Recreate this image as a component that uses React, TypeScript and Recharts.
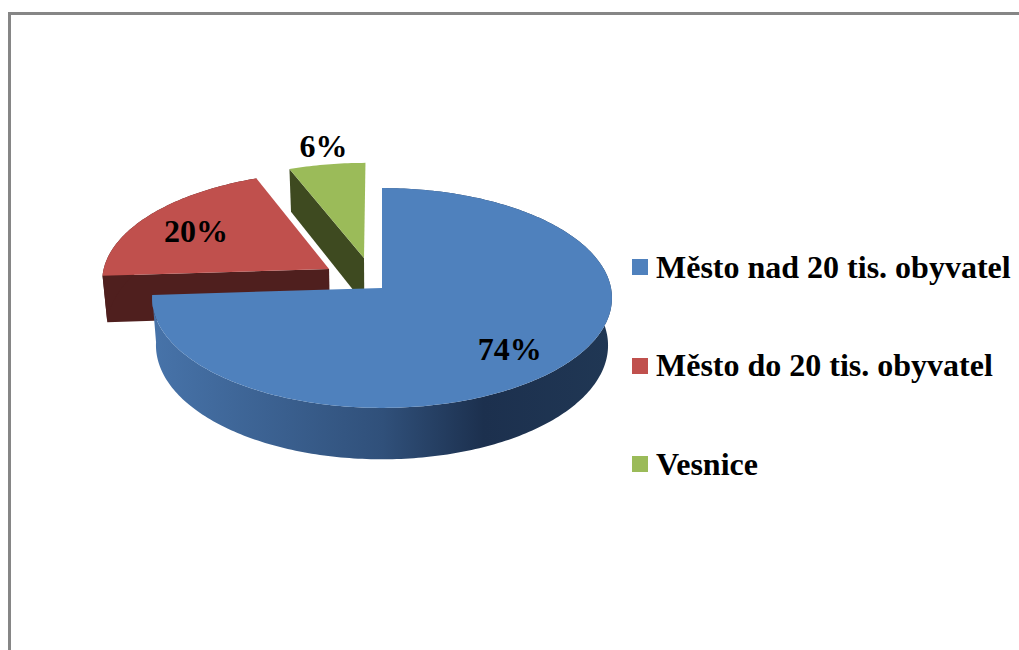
import React from "react";
import { PieChart, Pie, Cell, Legend } from "recharts";

// drawn back to front, so the big slice lands on top of the exploded ones
const categories = ["Vesnice", "Město do 20 tis. obyvatel", "Město nad 20 tis. obyvatel"];
const shares = [6, 20, 74];
const topColors = ["#9bbb59", "#c0504d", "#4f81bd"];
const sideColors = ["#3e4a20", "#4f1f1e", "url(#blueSide)"];

// slice explosion, in pie radii on the tilted plane
const explodeX = [-0.0806, -0.235, 0];
const explodeY = [0.2817, 0.177, 0];
// where the label sits along the slice's mid angle (fraction of radius)
const labelReach = [1.22, 0.75, 0.72];
const labelShiftX = [4, 3, 2];
const labelShiftY = [0, 3, 5];

const data = categories.map((name, i) => ({ name, value: shares[i] }));

const FONT = '"Liberation Serif", "Times New Roman", serif';
const PERSPECTIVE = 0.0909;
const TILT = 0.476;
const LOWER_SCALE = 0.983;
const LOWER_TILT = 0.4934;
const DEPTH = 47;

const project = (cx: number, cy: number, r: number, u: number, v: number, lower = false) => {
  const d = 1 + PERSPECTIVE * v;
  if (lower) {
    return [cx + (r * LOWER_SCALE * u) / d, cy + DEPTH - (r * LOWER_TILT * v) / d];
  }
  return [cx + (r * u) / d, cy - (r * TILT * v) / d];
};

const toPath = (pts: number[][]) =>
  "M" + pts.map((p) => `${p[0].toFixed(2)},${p[1].toFixed(2)}`).join("L") + "Z";

const Slice3D = (props: any) => {
  const { cx, cy, outerRadius, startAngle, endAngle, index } = props;
  const i = index ?? categories.indexOf(props.name);
  const ox = explodeX[i];
  const oy = explodeY[i];
  const at = (deg: number, lower: boolean) => {
    const a = (deg * Math.PI) / 180;
    return project(cx, cy, outerRadius, ox + Math.cos(a), oy + Math.sin(a), lower);
  };
  const apex = project(cx, cy, outerRadius, ox, oy);
  const apexLow = project(cx, cy, outerRadius, ox, oy, true);
  const upper: number[][] = [];
  const lower: number[][] = [];
  const steps = Math.ceil(Math.abs(endAngle - startAngle));
  for (let s = 0; s <= steps; s++) {
    const deg = startAngle + ((endAngle - startAngle) * s) / steps;
    upper.push(at(deg, false));
    lower.push(at(deg, true));
  }
  const side = sideColors[i];
  // a slice that stays in the back half shows no outer wall
  const showsWall = endAngle > 180;
  return (
    <g>
      <defs>
        <linearGradient id="blueSide" gradientUnits="userSpaceOnUse" x1="154" x2="612" y1="0" y2="0">
          <stop offset="0" stopColor="#4773a9" />
          <stop offset="0.5" stopColor="#30507a" />
          <stop offset="0.72" stopColor="#1c304e" />
          <stop offset="1" stopColor="#203754" />
        </linearGradient>
      </defs>
      <path d={toPath([apex, upper[steps], lower[steps], apexLow])} fill={side} />
      {showsWall && <path d={toPath([...upper, ...[...lower].reverse()])} fill={side} />}
      <path d={toPath([apex, ...upper])} fill={topColors[i]} />
    </g>
  );
};

const sliceLabel = (props: any) => {
  const { cx, cy, outerRadius, midAngle, index, value } = props;
  const a = (midAngle * Math.PI) / 180;
  const reach = labelReach[index];
  const [x, y] = project(
    cx,
    cy,
    outerRadius,
    explodeX[index] + reach * Math.cos(a),
    explodeY[index] + reach * Math.sin(a)
  );
  return (
    <text
      key={index}
      x={x + labelShiftX[index]}
      y={y + labelShiftY[index]}
      textAnchor="middle"
      dominantBaseline="central"
      fontFamily={FONT}
      fontWeight="bold"
      fontSize={32}
      fill="#000"
    >
      {value}%
    </text>
  );
};

const LegendList = () => (
  <div>
    {[...categories].reverse().map((name, i) => (
      <div key={name} style={{ display: "flex", alignItems: "center", height: 98.5 }}>
        <span
          style={{
            width: 16,
            height: 16,
            marginRight: 8,
            background: topColors[categories.length - 1 - i],
          }}
        />
        <span style={{ fontFamily: FONT, fontWeight: "bold", fontSize: 32, color: "#000", whiteSpace: "nowrap" }}>
          {name}
        </span>
      </div>
    ))}
  </div>
);

export default function App() {
  return (
    <div style={{ position: "absolute", left: 0, top: 0, width: 1019, height: 650, overflow: "hidden", background: "#fff" }}>
      <div
        style={{
          position: "absolute",
          left: 8,
          top: 12,
          width: 1100,
          height: 800,
          borderLeft: "3px solid #868686",
          borderTop: "3px solid #868686",
        }}
      />
      <div style={{ position: "absolute", left: 0, top: 0 }}>
        <PieChart width={1019} height={650} margin={{ top: 0, right: 0, bottom: 0, left: 0 }}>
          <Pie
            data={data}
            dataKey="value"
            nameKey="name"
            cx={382}
            cy={288}
            outerRadius={229}
            startAngle={90}
            endAngle={450}
            stroke="none"
            isAnimationActive={false}
            shape={Slice3D}
            labelLine={false}
            label={sliceLabel}
          >
            {data.map((d, i) => (
              <Cell key={d.name} fill={topColors[i]} />
            ))}
          </Pie>
          <Legend
            layout="vertical"
            content={<LegendList />}
            wrapperStyle={{ position: "absolute", left: 632, top: 218, width: 387 }}
          />
        </PieChart>
      </div>
    </div>
  );
}
